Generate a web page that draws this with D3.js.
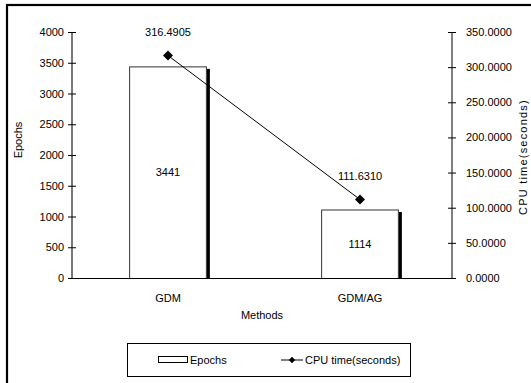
<!DOCTYPE html>
<html>
<head>
<meta charset="utf-8">
<script src="https://cdn.jsdelivr.net/npm/d3@7"></script>
<style>
  html, body { margin: 0; padding: 0; background: #fff; overflow: hidden; }
  svg { display: block; font-family: "Liberation Sans", Arial, sans-serif; }
  text { fill: #000; }
</style>
</head>
<body>
<script>
// Training comparison: epochs (bars, left axis) and CPU time (line, right axis)
const methods = ["GDM", "GDM/AG"];
const epochs = [3441, 1114];
const cpuTime = [316.4905, 111.6310];
const epochTicks = [0, 500, 1000, 1500, 2000, 2500, 3000, 3500, 4000];
const cpuTicks = [0, 50, 100, 150, 200, 250, 300, 350];

const W = 531, H = 383;
const svg = d3.select("body").append("svg").attr("width", W).attr("height", H);

// outer frame (runs past the visible area on the right and bottom)
svg.append("rect")
  .attr("x", 7).attr("y", 5).attr("width", 600).attr("height", 450)
  .attr("fill", "none").attr("stroke", "#000").attr("stroke-width", 2.2);

const plotL = 72, plotR = 452, plotT = 32, plotB = 278;

const x = d3.scaleBand().domain(methods).range([plotL, 456]);
const yL = d3.scaleLinear().domain([0, 4000]).range([plotB, plotT]);
const yR = d3.scaleLinear().domain([0, 350]).range([plotB, plotT]);

const barW = x.step() * 0.405;
const cx = d => x(d) + x.bandwidth() / 2;

// bars with a dark shadow along the right edge
const bars = svg.append("g");
methods.forEach((m, i) => {
  const x0 = cx(m) - barW / 2;
  bars.append("rect")
    .attr("x", x0 + barW).attr("y", yL(epochs[i]) + 2.5)
    .attr("width", 3).attr("height", plotB - yL(epochs[i]) - 2.5)
    .attr("fill", "#000");
  bars.append("rect")
    .attr("x", x0 + 0.5).attr("y", yL(epochs[i]) + 0.5)
    .attr("width", barW - 1).attr("height", plotB - yL(epochs[i]))
    .attr("fill", "#fff").attr("stroke", "#333").attr("stroke-width", 1);
  bars.append("text")
    .attr("x", cx(m)).attr("y", (yL(epochs[i]) + plotB) / 2 + 4)
    .attr("text-anchor", "middle").attr("font-size", 11)
    .text(epochs[i]);
});

// baseline
svg.append("line").attr("x1", plotL).attr("x2", plotR)
  .attr("y1", plotB + 0.5).attr("y2", plotB + 0.5)
  .attr("stroke", "#000").attr("stroke-width", 1);

// left axis
const axL = svg.append("g").attr("transform", `translate(${plotL},0)`)
  .call(d3.axisLeft(yL).tickValues(epochTicks).tickFormat(d3.format("d")).tickSize(4).tickPadding(4));
axL.select(".domain").attr("stroke", "#777").attr("stroke-width", 2).attr("d", `M0,${plotT}V${plotB}`);
axL.selectAll(".tick line").attr("x1", 4).attr("x2", -4).attr("stroke", "#000");
axL.selectAll(".tick text").attr("font-size", 11).attr("font-family", "Liberation Sans, Arial, sans-serif").attr("fill", "#000");

// right axis
const axR = svg.append("g").attr("transform", `translate(${plotR},0)`)
  .call(d3.axisRight(yR).tickValues(cpuTicks).tickFormat(d3.format(".4f")).tickSize(4).tickPadding(10));
axR.select(".domain").attr("stroke", "#000").attr("stroke-width", 1).attr("d", `M0,${plotT}V${plotB}`);
axR.selectAll(".tick line").attr("x1", -4).attr("x2", 4).attr("stroke", "#000");
axR.selectAll(".tick text").attr("font-size", 11).attr("font-family", "Liberation Sans, Arial, sans-serif").attr("fill", "#000");

// category labels
svg.append("g").selectAll("text").data(methods).join("text")
  .attr("x", d => cx(d)).attr("y", 302)
  .attr("text-anchor", "middle").attr("font-size", 11).text(d => d);

// axis titles
svg.append("text").attr("x", 262).attr("y", 319)
  .attr("text-anchor", "middle").attr("font-size", 11).text("Methods");
svg.append("text")
  .attr("transform", "translate(22,140) rotate(-90)")
  .attr("text-anchor", "middle").attr("font-size", 11).text("Epochs");
svg.append("text")
  .attr("transform", "translate(527,157) rotate(-90)")
  .attr("text-anchor", "middle").attr("font-size", 11)
  .attr("letter-spacing", 1.2).text("CPU time(seconds)");

// CPU time line with diamond markers
const pts = methods.map((m, i) => [cx(m), yR(cpuTime[i])]);
svg.append("path")
  .attr("d", d3.line()(pts))
  .attr("fill", "none").attr("stroke", "#000").attr("stroke-width", 1);
const diamond = d3.symbol().type(d3.symbolSquare).size(50);
svg.append("g").selectAll("path").data(pts).join("path")
  .attr("transform", d => `translate(${d[0]},${d[1]}) rotate(45)`)
  .attr("d", diamond).attr("fill", "#000");
svg.append("g").selectAll("text").data(methods).join("text")
  .attr("x", d => cx(d))
  .attr("y", (d, i) => yR(cpuTime[i]) - 20)
  .attr("text-anchor", "middle").attr("font-size", 11)
  .text((d, i) => d3.format(".4f")(cpuTime[i]));

// legend
const lg = svg.append("g");
lg.append("rect").attr("x", 127.5).attr("y", 343.5).attr("width", 283).attr("height", 33)
  .attr("fill", "#fff").attr("stroke", "#000").attr("stroke-width", 1);
lg.append("rect").attr("x", 158.5).attr("y", 356.5).attr("width", 29).attr("height", 6)
  .attr("fill", "#fff").attr("stroke", "#000").attr("stroke-width", 1);
lg.append("text").attr("x", 190).attr("y", 364).attr("font-size", 11).text("Epochs");
lg.append("line").attr("x1", 281).attr("x2", 303).attr("y1", 360).attr("y2", 360)
  .attr("stroke", "#000").attr("stroke-width", 1);
lg.append("path").attr("transform", "translate(292,360) rotate(45)")
  .attr("d", d3.symbol().type(d3.symbolSquare).size(22)).attr("fill", "#000");
lg.append("text").attr("x", 305).attr("y", 364).attr("font-size", 11).text("CPU time(seconds)");
</script>
</body>
</html>
